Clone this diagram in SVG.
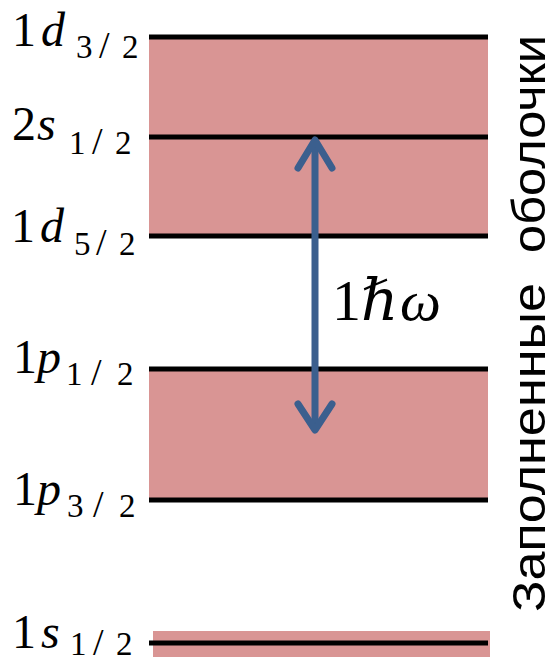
<svg xmlns="http://www.w3.org/2000/svg" width="554" height="662" viewBox="0 0 554 662">
  <style>
    .band { fill: #D99594; }
    .lvl { stroke: #000; stroke-width: 5; }
    .m { font-family: "Liberation Serif", "DejaVu Serif", serif; font-size: 48px; fill: #000; }
    .i { font-style: italic; }
    .sub { font-family: "Liberation Serif", "DejaVu Serif", serif; font-size: 33px; fill: #000; }
    .sl { font-size: 38px; }
    .arr { stroke: #3B5F8E; stroke-width: 7; fill: none; stroke-linecap: round; stroke-linejoin: round; }
    .side { font-family: "Liberation Sans", "Open Sans", sans-serif; font-size: 47px; fill: #000; }
  </style>
  <rect width="554" height="662" fill="#fff"/>

  <g id="band-upper"><rect class="band" x="149" y="38" width="339" height="198"/></g>
  <g id="band-middle"><rect class="band" x="149" y="369" width="339" height="131"/></g>
  <g id="band-lower"><rect class="band" x="153" y="631" width="337" height="26"/></g>

  <g id="level-1d32">
    <line class="lvl" x1="149" y1="37" x2="488" y2="37"/>
    <text class="m" x="12" y="46">1</text>
    <text class="m i" x="41" y="46">d</text>
    <text class="sub"><tspan x="76" y="58">3</tspan><tspan class="sl" x="99" y="58">/</tspan><tspan x="122" y="58">2</tspan></text>
  </g>
  <g id="level-2s12">
    <line class="lvl" x1="149" y1="137" x2="488" y2="137"/>
    <text class="m" x="12" y="140">2</text>
    <text class="m i" x="37" y="140">s</text>
    <text class="sub"><tspan x="69" y="154">1</tspan><tspan class="sl" x="92" y="154">/</tspan><tspan x="115" y="154">2</tspan></text>
  </g>
  <g id="level-1d52">
    <line class="lvl" x1="149" y1="236" x2="488" y2="236"/>
    <text class="m" x="11" y="242">1</text>
    <text class="m i" x="40" y="242">d</text>
    <text class="sub"><tspan x="74" y="255">5</tspan><tspan class="sl" x="96" y="255">/</tspan><tspan x="119" y="255">2</tspan></text>
  </g>
  <g id="level-1p12">
    <line class="lvl" x1="149" y1="369" x2="488" y2="369"/>
    <text class="m" x="13" y="373">1</text>
    <text class="m i" x="37" y="373">p</text>
    <text class="sub"><tspan x="66" y="385">1</tspan><tspan class="sl" x="91" y="385">/</tspan><tspan x="117" y="385">2</tspan></text>
  </g>
  <g id="level-1p32">
    <line class="lvl" x1="149" y1="500" x2="488" y2="500"/>
    <text class="m" x="13" y="505">1</text>
    <text class="m i" x="37" y="505">p</text>
    <text class="sub"><tspan x="67" y="517">3</tspan><tspan class="sl" x="93" y="517">/</tspan><tspan x="119" y="517">2</tspan></text>
  </g>
  <g id="level-1s12">
    <line class="lvl" x1="149" y1="643" x2="488" y2="643"/>
    <text class="m" x="12" y="648">1</text>
    <text class="m i" x="41" y="648">s</text>
    <text class="sub"><tspan x="70" y="655">1</tspan><tspan class="sl" x="93" y="655">/</tspan><tspan x="116" y="655">2</tspan></text>
  </g>

  <g id="connectors">
    <line class="arr" x1="315" y1="142" x2="315" y2="428"/>
    <polyline class="arr" points="298,168 315,140 332,168"/>
    <polyline class="arr" points="298,404 315,430 332,404"/>
  </g>

  <g id="label-energy">
    <text class="m" x="332" y="320" style="font-size:58px">1</text>
    <text class="m i" x="361" y="320" style="font-size:58px">ℏ</text>
    <text class="m i" x="400" y="320" style="font-size:58px">ω</text>
  </g>

  <g id="label-side">
    <text class="side" transform="translate(545,612) rotate(-90)" x="0" y="0" textLength="329" lengthAdjust="spacingAndGlyphs">Заполненные</text>
    <text class="side" transform="translate(545,612) rotate(-90)" x="359" y="0" textLength="218" lengthAdjust="spacingAndGlyphs">оболочки</text>
  </g>
</svg>
